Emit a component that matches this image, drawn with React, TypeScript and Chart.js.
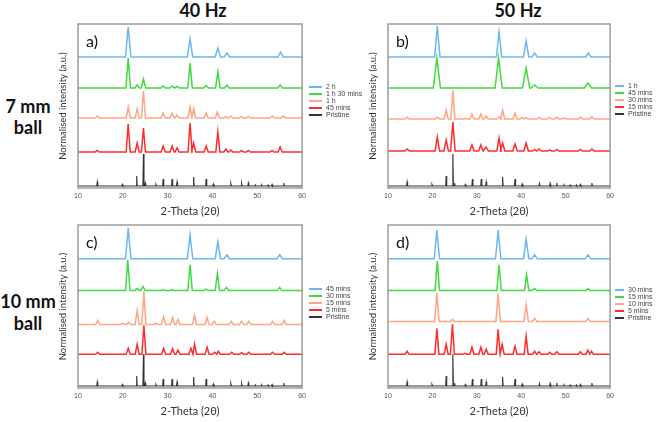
import React, { useEffect, useRef } from 'react';
import { Chart, registerables } from 'chart.js';
Chart.register(...registerables);

// ---------- data ----------
const xTickValues = [10, 20, 30, 40, 50, 60];
const X_MIN = 10;
const X_MAX = 60;
const Y_MAX = 164;

const rowLabels = ['7 mm', '10 mm'];
const colLabels = ['40 Hz', '50 Hz'];
const panelLetters = ['a)', 'b)', 'c)', 'd)'];

// Pristine pattern (shared by all panels): [2θ, intensity]
const pristineBase = 2;
const pristinePeaks = [
  [14.3, 6], [19.9, 3.5], [23.1, 12], [24.6, 34], [25.0, 5], [27.4, 3.5], [29.0, 9], [31.0, 9],
  [32.1, 6], [35.8, 11], [38.6, 9], [40.2, 4], [44.1, 4.5], [46.5, 4.5], [48.0, 5], [49.6, 3],
  [51.0, 3], [52.4, 3], [53.3, 3.5], [55.9, 5],
];

// Panel a) 40 Hz, 7 mm ball
const aLabels = ['2 h', '1 h 30 mins', '1 h', '45 mins', 'Pristine'];
const aBaselines = [131, 100, 70, 36];
const aWidths = [0.6, 0.5, 0.45, 0.45, 0.12];
const a2h = [[21.2, 161], [35.0, 149], [41.2, 140], [43.2, 135], [55.2, 136]];
const a1h30 = [[21.2, 130], [23.2, 103], [24.6, 109], [29.0, 102], [31.0, 102], [32.1, 101.5], [35.0, 125], [38.6, 102.5], [41.2, 116], [43.2, 103], [55.1, 103]];
const a1h = [[14.3, 72], [21.2, 81], [23.2, 79], [24.6, 97], [29.0, 75], [31.0, 75], [32.1, 73], [35.0, 81], [35.8, 79], [38.6, 75], [41.1, 76], [43.0, 71.5], [44.1, 72], [46.5, 71.5], [48.0, 71.5], [53.3, 72], [55.8, 72]];
const a45m = [[14.3, 37.5], [21.2, 64], [23.2, 45], [24.6, 60], [29.0, 42], [31.0, 42], [32.1, 40], [35.0, 65], [35.8, 45], [38.6, 42], [41.2, 56], [43.0, 39], [44.1, 38], [46.5, 37.5], [48.0, 37.5], [53.3, 37.5], [55.1, 41]];

// Panel b) 50 Hz, 7 mm ball
const bLabels = ['1 h', '45 mins', '30 mins', '15 mins', 'Pristine'];
const bBaselines = [131, 100, 69, 37];
const bWidths = [0.6, 0.8, 0.45, 0.5, 0.12];
const b1h = [[21.1, 162], [35.0, 156], [41.1, 147], [43.0, 135], [55.1, 135]];
const b45m = [[21.0, 130], [34.9, 130], [41.1, 120], [43.0, 103], [55.0, 105]];
const b30m = [[14.3, 71], [21.1, 71], [23.1, 78], [24.6, 98], [27.3, 69.5], [28.9, 74], [30.9, 74], [32.1, 72], [35.0, 71], [35.8, 78], [38.6, 75], [40.2, 70.5], [41.1, 70.5], [44.0, 70.5], [46.4, 70.5], [48.0, 71], [49.5, 70], [53.3, 71], [55.9, 71.5]];
const b15m = [[14.3, 39], [21.1, 51], [23.1, 48], [24.6, 66], [28.9, 43], [30.9, 43], [32.1, 41], [35.0, 50], [35.8, 45], [38.6, 44], [41.1, 45], [43.0, 38.5], [44.0, 39], [46.4, 38], [48.0, 38.5], [53.3, 38.5], [55.9, 39]];

// Panel c) 40 Hz, 10 mm ball
const cLabels = ['45 mins', '30 mins', '15 mins', '5 mins', 'Pristine'];
const cBaselines = [130, 98, 64, 34];
const cWidths = [0.6, 0.5, 0.45, 0.45, 0.12];
const c45m = [[21.2, 161], [35.0, 154], [41.2, 147], [43.2, 134], [55.0, 134]];
const c30m = [[21.1, 129], [23.2, 100], [24.5, 102], [29.0, 99], [31.0, 99], [35.0, 124], [38.6, 99.5], [41.1, 115], [43.1, 101], [55.0, 101]];
const c15m = [[14.4, 68], [20.0, 65], [21.3, 66], [23.2, 78], [24.7, 97], [27.4, 65], [29.1, 72], [31.1, 71], [32.3, 69], [36.0, 73], [38.8, 71], [40.4, 67], [44.2, 67], [46.5, 67], [48.1, 67], [53.4, 67], [56.0, 68]];
const c5m = [[14.4, 36], [21.2, 40], [23.2, 44], [24.7, 63], [29.1, 40], [31.1, 39.5], [32.3, 38], [35.2, 40], [36.0, 44], [38.8, 41], [40.5, 36], [41.3, 37], [44.3, 36], [46.5, 35.5], [48.1, 36], [53.4, 36], [56.0, 36]];

// Panel d) 50 Hz, 10 mm ball
const dLabels = ['30 mins', '15 mins', '10 mins', '5 mins', 'Pristine'];
const dBaselines = [130, 98, 67, 34];
const dWidths = [0.6, 0.5, 0.5, 0.45, 0.12];
const d30m = [[21.0, 159], [34.8, 159], [41.1, 150], [43.0, 134], [55.0, 134]];
const d15m = [[21.1, 128], [35.0, 124], [41.2, 114], [43.0, 100], [55.0, 100]];
const d10m = [[21.0, 96], [24.5, 69], [34.8, 95], [41.1, 84], [43.0, 70], [55.0, 70]];
const d5m = [[14.3, 37], [21.0, 60], [23.1, 44], [24.5, 64], [27.3, 35], [28.9, 41], [30.9, 41], [32.1, 39], [34.8, 59], [35.7, 44], [38.6, 42], [41.1, 52], [43.0, 37], [44.0, 36.5], [46.4, 36], [48.0, 36.5], [53.3, 36.5], [55.0, 38], [55.8, 37]];

// ---------- style / layout ----------
const seriesColors = ['#6db6ee', '#3edc3e', '#ffa684', '#ff2c2c', '#333333'];

const panelData = [
  { labels: aLabels, baselines: aBaselines, widths: aWidths, peaks: [a2h, a1h30, a1h, a45m] },
  { labels: bLabels, baselines: bBaselines, widths: bWidths, peaks: [b1h, b45m, b30m, b15m] },
  { labels: cLabels, baselines: cBaselines, widths: cWidths, peaks: [c45m, c30m, c15m, c5m] },
  { labels: dLabels, baselines: dBaselines, widths: dWidths, peaks: [d30m, d15m, d10m, d5m] },
];

const geoms = [
  { L: 78, R: 306, T: 24, B: 188, legX: 309, legLine: 13, legY: 87 },
  { L: 388, R: 614, T: 24, B: 188, legX: 615, legLine: 9, legY: 86 },
  { L: 78, R: 306, T: 225, B: 388, legX: 309, legLine: 13, legY: 289 },
  { L: 388, R: 614, T: 225, B: 388, legX: 615, legLine: 9, legY: 290 },
];

const PAD_LEFT = 30;
const PAD_BOTTOM = 30;
const PAD_TOP = 4;
const PAD_RIGHT = 4;

function buildLine(base: number, peaks: number[][], hw: number) {
  const pts: { x: number; y: number }[] = [{ x: X_MIN, y: base }];
  const sorted = [...peaks].sort((p, q) => p[0] - q[0]);
  for (const [px, py] of sorted) {
    pts.push({ x: px - hw, y: base });
    pts.push({ x: px, y: py });
    pts.push({ x: px + hw, y: base });
  }
  pts.push({ x: X_MAX, y: base });
  return pts;
}

const framePlugin = {
  id: 'frame',
  afterDraw(chart: any) {
    const { ctx, chartArea: a } = chart;
    ctx.save();
    ctx.strokeStyle = '#9c9c9c';
    ctx.lineWidth = 1.5;
    ctx.strokeRect(a.left, a.top, a.right - a.left, a.bottom - a.top);
    ctx.restore();
  },
};

function Panel({ idx }: { idx: number }) {
  const ref = useRef<HTMLCanvasElement | null>(null);
  const g = geoms[idx];
  const pd = panelData[idx];
  const w = g.R - g.L + PAD_LEFT + PAD_RIGHT;
  const h = g.B - g.T + PAD_TOP + PAD_BOTTOM;

  useEffect(() => {
    if (!ref.current) return;
    const datasets = pd.labels.map((lab, i) => {
      const data = i < 4
        ? buildLine(pd.baselines[i], pd.peaks[i], pd.widths[i])
        : buildLine(pristineBase, pristinePeaks, pd.widths[4]);
      return {
        label: lab,
        data,
        borderColor: seriesColors[i],
        backgroundColor: seriesColors[i],
        borderWidth: i === 4 ? 1.1 : 1.5,
        pointRadius: 0,
        tension: 0,
        fill: false,
      };
    });
    const chart = new Chart(ref.current, {
      type: 'line',
      data: { datasets },
      options: {
        animation: false,
        responsive: false,
        events: [],
        layout: { padding: { top: PAD_TOP, right: PAD_RIGHT, left: 0, bottom: 0 } },
        plugins: { legend: { display: false }, tooltip: { enabled: false }, title: { display: false } },
        scales: {
          x: {
            type: 'linear',
            min: X_MIN,
            max: X_MAX,
            afterBuildTicks: (s: any) => { s.ticks = xTickValues.map((v) => ({ value: v })); },
            afterFit: (s: any) => { s.height = PAD_BOTTOM; },
            grid: { display: false, drawTicks: false, tickLength: 0 },
            border: { display: false },
            ticks: { font: { family: 'Arial', size: 7 }, color: '#555', padding: 4, maxRotation: 0 },
            title: {
              display: true,
              text: '2-Theta (2θ)',
              font: { family: 'Lato', size: 11, lineHeight: 1.2 },
              color: '#333',
              padding: { top: 0, bottom: 0 },
            },
          },
          y: {
            min: 0,
            max: Y_MAX,
            afterFit: (s: any) => { s.width = PAD_LEFT; },
            grid: { display: false, drawTicks: false },
            border: { display: false },
            ticks: { display: false },
            title: {
              display: true,
              text: 'Normalised intensity (a.u.)',
              font: { family: 'Lato', size: 9.5, lineHeight: 1.2 },
              color: '#333',
              padding: { top: 9, bottom: 0 },
            },
          },
        },
      },
      plugins: [framePlugin],
    } as any);
    return () => chart.destroy();
  }, []);

  return (
    <>
      <canvas
        ref={ref}
        width={w}
        height={h}
        style={{ position: 'absolute', left: g.L - PAD_LEFT, top: g.T - PAD_TOP, width: w, height: h }}
      />
      <div style={{ position: 'absolute', left: g.L + 8, top: g.T + 9, fontFamily: 'Lato', fontSize: 16, lineHeight: '16px', color: '#111' }}>
        {panelLetters[idx]}
      </div>
      {pd.labels.map((lab, i) => (
        <React.Fragment key={lab + i}>
          <div style={{ position: 'absolute', left: g.legX, top: g.legY + i * 7 - 0.75, width: g.legLine, height: 1.5, background: seriesColors[i] }} />
          <div style={{ position: 'absolute', left: g.legX + g.legLine + 4, top: g.legY + i * 7 - 5, fontFamily: 'Arial', fontSize: 7, lineHeight: '10px', color: '#444', whiteSpace: 'nowrap' }}>
            {lab}
          </div>
        </React.Fragment>
      ))}
    </>
  );
}

export default function App() {
  const bold = { position: 'absolute' as const, fontFamily: 'Lato', fontWeight: 700, fontSize: 18, color: '#111', textAlign: 'center' as const, whiteSpace: 'nowrap' as const };
  return (
    <div style={{ position: 'fixed', left: 0, top: 0, width: 660, height: 422, background: '#fff', overflow: 'hidden' }}>
      <div style={{ ...bold, left: 153, width: 100, top: -1, lineHeight: '22px' }}>{colLabels[0]}</div>
      <div style={{ ...bold, left: 468, width: 100, top: -1, lineHeight: '22px' }}>{colLabels[1]}</div>
      <div style={{ ...bold, left: -12, width: 80, top: 96, lineHeight: '21px' }}>{rowLabels[0]}<br />ball</div>
      <div style={{ ...bold, left: -12, width: 80, top: 290, lineHeight: '22px' }}>{rowLabels[1]}<br />ball</div>
      {[0, 1, 2, 3].map((i) => <Panel key={i} idx={i} />)}
    </div>
  );
}
